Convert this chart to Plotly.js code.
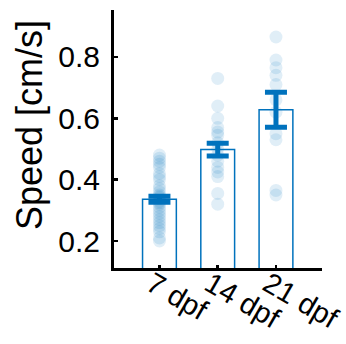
<!DOCTYPE html>
<html>
<head>
<meta charset="utf-8">
<script src="https://cdn.plot.ly/plotly-3.0.1.min.js"></script>
<style>html,body{margin:0;padding:0;background:#fff;}#chart{width:346px;height:344px;}</style>
</head>
<body>
<div id="chart"></div>
<script>
const categories = ["7 dpf", "14 dpf", "21 dpf"];
const meanSpeed = [0.336, 0.498, 0.628];
const semSpeed = [0.010, 0.021, 0.057];
const speed7 = [0.48, 0.47, 0.46, 0.45, 0.44, 0.42, 0.41, 0.40, 0.38, 0.37, 0.36, 0.35, 0.345, 0.34,
                0.33, 0.325, 0.32, 0.31, 0.30, 0.29, 0.28, 0.27, 0.26, 0.25, 0.24, 0.23, 0.21, 0.20];
const speed14 = [0.73, 0.64, 0.60, 0.57, 0.555, 0.545, 0.52, 0.50, 0.48, 0.46, 0.44, 0.425, 0.41, 0.355, 0.32];
const speed21 = [0.865, 0.79, 0.765, 0.74, 0.71, 0.66, 0.62, 0.55, 0.53, 0.365, 0.35];
const yTicks = [0.2, 0.4, 0.6, 0.8];

const blue = "rgb(0,114,189)";
const groups = [speed7, speed14, speed21];
const ptX = [], ptY = [];
groups.forEach((g, i) => g.forEach(v => { ptX.push(categories[i]); ptY.push(v); }));

const traces = [
  {
    type: "bar", x: categories, y: meanSpeed, width: 0.58,
    marker: {color: "rgba(255,255,255,1)", line: {color: blue, width: 1.5}},
    hoverinfo: "none", showlegend: false
  },
  {
    type: "scatter", mode: "markers", x: ptX, y: ptY,
    marker: {color: blue, opacity: 0.12, size: 13, line: {width: 0}},
    hoverinfo: "none", showlegend: false
  },
  {
    type: "scatter", mode: "markers", x: categories, y: meanSpeed,
    marker: {size: 0.1, color: "rgba(0,0,0,0)"},
    error_y: {type: "data", array: semSpeed, visible: true, color: blue, thickness: 5, width: 11},
    hoverinfo: "none", showlegend: false
  }
];

const font = {family: "Liberation Sans, Arial, sans-serif", color: "#000"};
const layout = {
  width: 346, height: 344,
  margin: {l: 114, r: 24, t: 10, b: 76},
  paper_bgcolor: "#fff", plot_bgcolor: "#fff",
  font: font,
  showlegend: false,
  xaxis: {
    type: "category", range: [-0.78, 2.79],
    showline: true, linecolor: "#000", linewidth: 3,
    ticks: "inside", ticklen: 3, tickwidth: 2.5, tickcolor: "#000",
    tickangle: 30, ticklabelstandoff: -15, ticklabelshift: -8,
    tickfont: {family: font.family, size: 29, color: "#000"},
    showgrid: false, zeroline: false, fixedrange: true
  },
  yaxis: {
    range: [0.112, 0.953],
    tickvals: yTicks, ticktext: yTicks.map(v => v.toFixed(1)),
    showline: true, linecolor: "#000", linewidth: 3,
    ticks: "inside", ticklen: 4, tickwidth: 2.5, tickcolor: "#000",
    ticklabelstandoff: 5,
    tickfont: {family: font.family, size: 30, color: "#000"},
    showgrid: false, zeroline: false, fixedrange: true
  },
  annotations: [{
    text: "Speed [cm/s]", textangle: -90, showarrow: false,
    xref: "paper", yref: "paper", x: (29 - 114) / 208, y: (268 - 125) / 258,
    xanchor: "center", yanchor: "middle",
    font: {family: font.family, size: 36, color: "#000"}
  }]
};

Plotly.newPlot("chart", traces, layout, {staticPlot: true, displayModeBar: false});
</script>
</body>
</html>
